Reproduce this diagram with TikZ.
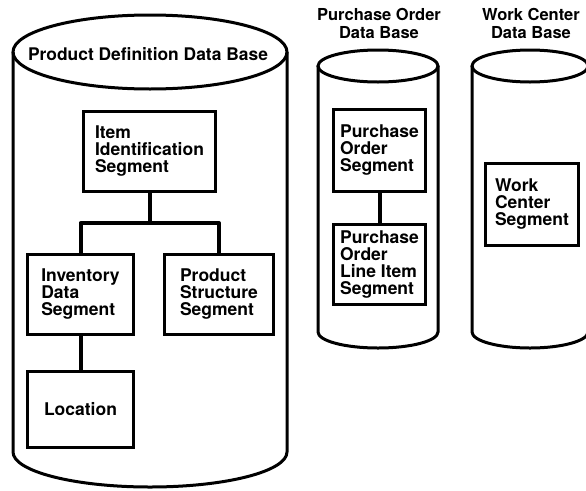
\documentclass[tikz,border=0pt]{standalone}
\usepackage{fontspec}
\setmainfont{TeX Gyre Heros}
\tikzset{
  segbox/.style={draw, line width=2.5pt, align=left, inner sep=0pt,
    font=\bfseries\fontsize{17.5}{17}\selectfont},
  dbtitle/.style={align=center, font=\bfseries\fontsize{16.5}{18}\selectfont},
  dbline/.style={line width=3pt},
  link/.style={line width=4pt, line join=round}
}
\begin{document}
\begin{tikzpicture}[x=1pt,y=-1pt]
\useasboundingbox (0,0) rectangle (586,490);
% data base cylinders
\draw[dbline] (150,52) ellipse [x radius=137, y radius=37];
\draw[dbline] (13,52) -- (13,452) arc [start angle=180, end angle=0, x radius=137, y radius=35] -- (287,52);
\draw[dbline] (378,66) ellipse [x radius=60, y radius=16];
\draw[dbline] (318,66) -- (318,332) arc [start angle=180, end angle=0, x radius=60, y radius=16] -- (438,66);
\draw[dbline] (530,66) ellipse [x radius=58, y radius=16];
\draw[dbline] (472,66) -- (472,332) arc [start angle=180, end angle=0, x radius=58, y radius=16] -- (588,66);
% data base titles
\node (pdtitle) at (148,54) [dbtitle, font=\bfseries\fontsize{17.4}{18}\selectfont] {Product Definition Data Base};
\node (potitle) at (379,23) [dbtitle] {Purchase Order\\Data Base};
\node (wctitle) at (531,23) [dbtitle] {Work Center\\Data Base};
% segments
\node (item) at (149.5,151.5) [segbox, minimum width=132, minimum height=80] {Item\\Identification\\Segment};
\node (inv) at (80.5,294.5) [segbox, minimum width=106, minimum height=80] {Inventory\\Data\\Segment};
\node (ps) at (219,294.5) [segbox, minimum width=109, minimum height=80] {Product\\Structure\\Segment};
\node (loc) at (80.5,409.5) [segbox, minimum width=106, minimum height=76] {Location};
\node (po) at (379.5,150.5) [segbox, minimum width=92, minimum height=82] {Purchase\\Order\\Segment};
\node (poline) at (379.5,264.5) [segbox, minimum width=92, minimum height=80] {Purchase\\Order\\Line Item\\Segment};
\node (wc) at (532,204.5) [segbox, minimum width=93, minimum height=82] {Work\\Center\\Segment};
% links
\coordinate (split) at (149.5,223);
\draw[link] (item) -- (split);
\draw[link] (split) -| (inv);
\draw[link] (split) -| (ps);
\draw[link] (inv) -- (loc);
\draw[link] (po) -- (poline);
\end{tikzpicture}
\end{document}
